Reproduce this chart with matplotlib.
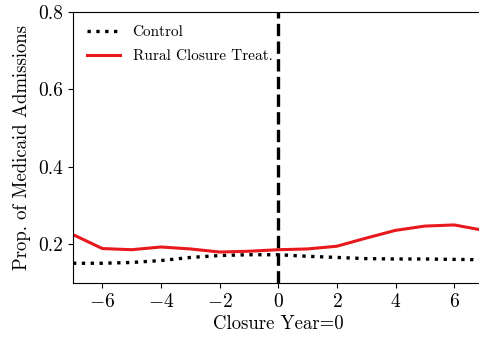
import matplotlib
matplotlib.use("Agg")
import matplotlib.pyplot as plt

plt.rcParams['font.family'] = 'serif'
plt.rcParams['font.serif'] = ['cmr10', 'DejaVu Serif']
plt.rcParams['mathtext.fontset'] = 'cm'
plt.rcParams['axes.formatter.use_mathtext'] = True

years = [-7, -6, -5, -4, -3, -2, -1, 0, 1, 2, 3, 4, 5, 6, 7]
control = [0.151, 0.151, 0.153, 0.158, 0.166, 0.171, 0.173, 0.173, 0.169, 0.166, 0.163, 0.162, 0.162, 0.161, 0.160]
treat = [0.225, 0.189, 0.186, 0.193, 0.188, 0.180, 0.182, 0.186, 0.188, 0.195, 0.216, 0.236, 0.247, 0.250, 0.236]
xticks = [-6, -4, -2, 0, 2, 4, 6]
yticks = [0.2, 0.4, 0.6, 0.8]

fig = plt.figure(figsize=(4.79, 3.43), dpi=100)
ax = fig.add_axes([73/479, 1 - 283/343, (483.5 - 73)/479, (283 - 12)/343])
ax.plot(years, control, color='black', linestyle=':', linewidth=2.4, label='Control')
ax.plot(years, treat, color='#e8191c', linestyle='-', linewidth=2.2, label='Rural Closure Treat.')
ax.axvline(0, color='black', linestyle='--', linewidth=2.4)
ax.set_xlim(-7, 7)
ax.set_ylim(0.1, 0.8)
ax.set_xticks(xticks)
ax.set_yticks(yticks)
ax.set_xticklabels([f'${v}$' if v >= 0 else f'$-{abs(v)}$' for v in xticks])
ax.set_yticklabels([f'{v:.1f}' for v in yticks])
ax.tick_params(labelsize=14)
ax.set_xlabel('Closure Year=0', fontsize=13.5, labelpad=3)
ax.set_ylabel('Prop. of Medicaid Admissions', fontsize=13.5, labelpad=5)
ax.legend(loc='upper left', frameon=False, fontsize=11, labelspacing=0.65, handlelength=2.2)
fig.savefig('out.png', dpi=100)
